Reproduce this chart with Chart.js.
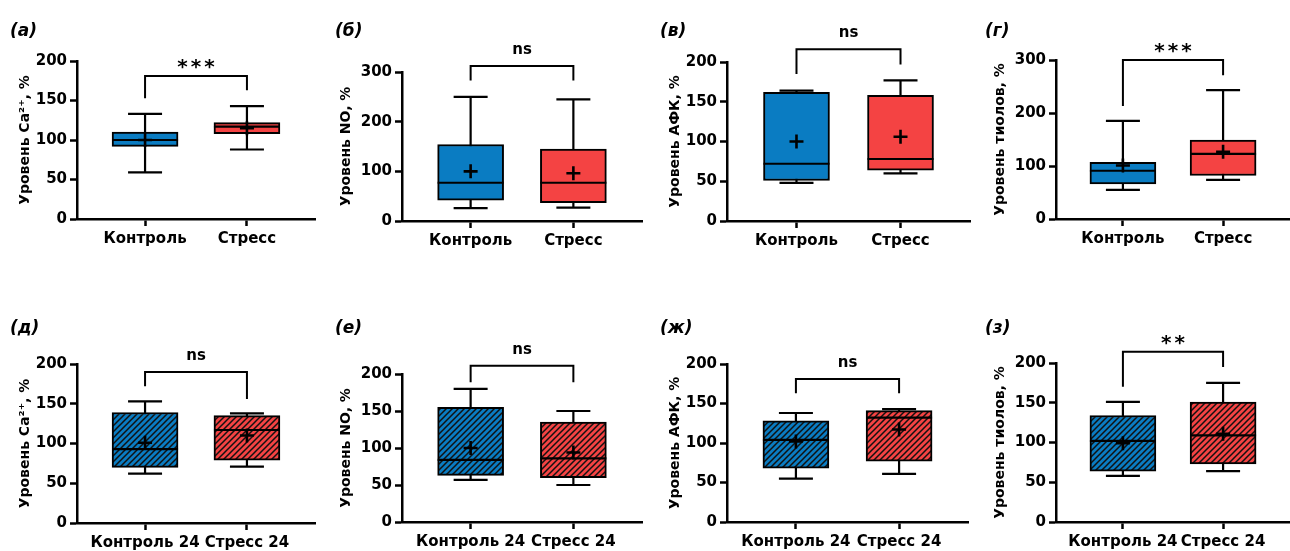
<!DOCTYPE html>
<html>
<head>
<meta charset="utf-8">
<script src="https://cdn.jsdelivr.net/npm/chart.js@4.4.1/dist/chart.umd.min.js"></script>
<style>
  body { margin: 0; background: #fff; width: 1290px; height: 551px; position: relative; overflow: hidden; }
  canvas { position: absolute; }
  .lbl { position: absolute; font: italic bold 17px "DejaVu Sans"; line-height: 20px; color: #000; }
</style>
</head>
<body>
<script>
// groups on the x axis
const groups = ['Контроль', 'Стресс'];
const groups24 = ['Контроль 24', 'Стресс 24'];

// panels: а б в г (top row), д е ж з (bottom row)
const panelLabels = ['(а)', '(б)', '(в)', '(г)', '(д)', '(е)', '(ж)', '(з)'];
const yTitles = ['Уровень Ca²⁺, %', 'Уровень NO, %', 'Уровень АФК, %', 'Уровень тиолов, %',
                 'Уровень Ca²⁺, %', 'Уровень NO, %', 'Уровень АФК, %', 'Уровень тиолов, %'];
const yMax  = [200, 300, 200, 300, 200, 200, 200, 200];
const yStep = [50, 100, 50, 100, 50, 50, 50, 50];

// box plot stats per panel: [control, stress]
const whiskerLow  = [[59, 88], [26, 27], [48, 60], [55, 74], [62, 71], [57, 50], [55, 61], [58, 64]];
const boxLow      = [[92, 108], [42, 37], [51, 64], [66, 82], [70, 79], [63, 60], [68, 77], [64, 73]];
const medians     = [[100, 117], [77, 77], [72, 78], [91, 123], [93, 117], [84, 86], [104, 132], [102, 109]];
const boxHigh     = [[110, 122], [154, 145], [162, 158], [107, 149], [139, 135], [155, 135], [128, 141], [134, 151]];
const whiskerHigh = [[133, 143], [250, 245], [164, 177], [185, 243], [153, 138], [180, 150], [138, 143], [151, 175]];
const means       = [[100, 115], [100, 96], [100, 106], [101, 127], [101, 110], [100, 94], [102, 117], [99, 111]];

// significance brackets
const sigLabels   = ['***', 'ns', 'ns', '***', 'ns', 'ns', 'ns', '**'];
const bracketTop  = [181, 312, 216, 300, 190, 211, 181, 214];
const bracketLegL = [153, 283, 185, 213, 172, 189, 163, 170];
const bracketLegR = [163, 283, 197, 271, 156, 189, 163, 195];

// page layout (pixels)
const colLeft = [0, 322, 645, 967];
const rowTop = [0, 275];
const rowH = [275, 276];
const axisX = [77, 402, 727, 1056];
const axisRight = [[315, 642, 970, 1290], [315, 642, 968, 1290]];
const plotTop = [[61, 72, 62, 60], [364, 374, 364, 363]];
const plotBottom = [[219, 221, 221, 219], [523, 522, 522, 522]];
const titleCx = [25, 346, 675, 1000];
const labelPos = [[10, 20], [335, 20], [660, 20], [985, 20], [10, 317], [335, 317], [660, 317], [985, 317]];

const BLUE = '#0a7cc2';
const RED = '#f44343';
const FONT = 'DejaVu Sans';

Chart.defaults.font.family = FONT;
Chart.defaults.font.weight = 'bold';
Chart.defaults.color = '#000';

function hatch(color) {
  const s = 6;
  const c = document.createElement('canvas');
  c.width = s; c.height = s;
  const g = c.getContext('2d');
  g.fillStyle = color;
  g.fillRect(0, 0, s, s);
  g.strokeStyle = '#111';
  g.lineWidth = 1.5;
  g.beginPath();
  g.moveTo(0, s); g.lineTo(s, 0);
  g.moveTo(-1, 1); g.lineTo(1, -1);
  g.moveTo(s - 1, s + 1); g.lineTo(s + 1, s - 1);
  g.stroke();
  return g.createPattern(c, 'repeat');
}

function boxParts(k) {
  return {
    id: 'boxParts',
    beforeDatasetsDraw(chart) {
      const { ctx, scales: { x, y } } = chart;
      ctx.save();
      ctx.strokeStyle = '#000';
      ctx.lineWidth = 2.2;
      for (let i = 0; i < 2; i++) {
        const px = x.getPixelForValue(i);
        const lo = y.getPixelForValue(whiskerLow[k][i]);
        const hi = y.getPixelForValue(whiskerHigh[k][i]);
        ctx.beginPath();
        ctx.moveTo(px, lo); ctx.lineTo(px, hi);
        ctx.moveTo(px - 17, lo); ctx.lineTo(px + 17, lo);
        ctx.moveTo(px - 17, hi); ctx.lineTo(px + 17, hi);
        ctx.stroke();
      }
      ctx.restore();
    },
    afterDatasetsDraw(chart) {
      const { ctx, scales: { x, y } } = chart;
      ctx.save();
      ctx.strokeStyle = '#000';
      for (let i = 0; i < 2; i++) {
        const px = x.getPixelForValue(i);
        // median
        const m = y.getPixelForValue(medians[k][i]);
        ctx.lineWidth = 2.2;
        ctx.beginPath();
        ctx.moveTo(px - 33, m); ctx.lineTo(px + 33, m);
        ctx.stroke();
        // mean
        const mu = y.getPixelForValue(means[k][i]);
        ctx.lineWidth = 2.6;
        ctx.beginPath();
        ctx.moveTo(px - 7, mu); ctx.lineTo(px + 7, mu);
        ctx.moveTo(px, mu - 7); ctx.lineTo(px, mu + 7);
        ctx.stroke();
      }
      // bracket
      const x0 = x.getPixelForValue(0), x1 = x.getPixelForValue(1);
      const top = y.getPixelForValue(bracketTop[k]);
      ctx.lineWidth = 2;
      ctx.beginPath();
      ctx.moveTo(x0, y.getPixelForValue(bracketLegL[k]));
      ctx.lineTo(x0, top);
      ctx.lineTo(x1, top);
      ctx.lineTo(x1, y.getPixelForValue(bracketLegR[k]));
      ctx.stroke();
      ctx.fillStyle = '#000';
      ctx.textAlign = 'center';
      ctx.textBaseline = 'alphabetic';
      const lab = sigLabels[k];
      if (lab.includes('*')) {
        ctx.font = 'bold 20px "' + FONT + '"';
        ctx.letterSpacing = '3px';
        ctx.fillText(lab, (x0 + x1) / 2 + 1.5, top - 3);
      } else {
        ctx.font = 'bold 15px "' + FONT + '"';
        ctx.fillText(lab, (x0 + x1) / 2, top - 12);
      }
      ctx.restore();
    }
  };
}

for (let k = 0; k < 8; k++) {
  const r = k >> 2, c = k % 4;
  const left = colLeft[c], top = rowTop[r];
  const w = axisRight[r][c] - left + 2, h = rowH[r];
  const cv = document.createElement('canvas');
  cv.width = w; cv.height = h;
  cv.style.left = left + 'px'; cv.style.top = top + 'px';
  document.body.appendChild(cv);

  const lbl = document.createElement('div');
  lbl.className = 'lbl';
  lbl.textContent = panelLabels[k];
  lbl.style.left = labelPos[k][0] + 'px';
  lbl.style.top = labelPos[k][1] + 'px';
  document.body.appendChild(lbl);

  const titleFont = 14;
  const padLeft = titleCx[c] - left - titleFont * 1.2 / 2;
  const yWidth = axisX[c] - left - padLeft;
  const xHeight = top + h - plotBottom[r][c];
  const cats = r === 0 ? groups : groups24;
  const colors = r === 0 ? [BLUE, RED] : [hatch(BLUE), hatch(RED)];

  new Chart(cv, {
    type: 'bar',
    data: {
      datasets: [{
        data: [0, 1].map(i => ({ x: i, y: [boxLow[k][i], boxHigh[k][i]] })),
        backgroundColor: colors,
        borderColor: '#000',
        borderWidth: 2,
        borderSkipped: false,
        barThickness: 66
      }]
    },
    options: {
      responsive: false,
      animation: false,
      devicePixelRatio: 1,
      layout: { padding: { left: padLeft, top: plotTop[r][c] - top, right: 2, bottom: 0 } },
      plugins: { legend: { display: false }, tooltip: { enabled: false } },
      scales: {
        x: {
          type: 'linear',
          min: -0.668, max: 1.668,
          bounds: 'data',
          offset: false,
          afterBuildTicks: s => { s.ticks = [{ value: 0 }, { value: 1 }]; },
          afterFit: s => { s.height = xHeight; },
          ticks: {
            callback: v => cats[v],
            autoSkip: false, maxRotation: 0, minRotation: 0,
            padding: 4,
            font: { size: 15, weight: 'bold' }
          },
          grid: { offset: false, drawOnChartArea: false, tickLength: 7, tickWidth: 2.5, tickColor: '#000' },
          border: { display: true, width: 2.5, color: '#000' }
        },
        y: {
          min: 0, max: yMax[k],
          afterFit: s => { s.width = yWidth; },
          ticks: { stepSize: yStep[k], padding: 3, font: { size: 15, weight: 'bold' } },
          grid: { drawOnChartArea: false, tickLength: 7, tickWidth: 2.5, tickColor: '#000' },
          border: { display: true, width: 2.5, color: '#000' },
          title: { display: true, text: yTitles[k], padding: 0, font: { size: titleFont, weight: 'bold' } }
        }
      }
    },
    plugins: [boxParts(k)]
  });
}
</script>
</body>
</html>
